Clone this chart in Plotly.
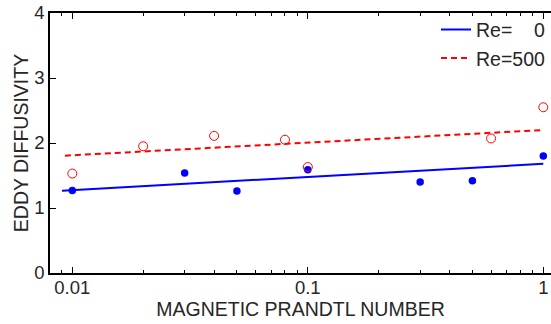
import plotly.graph_objects as go

# Data
re0_x = [0.01, 0.03, 0.05, 0.1, 0.3, 0.5, 1.0]
re0_y = [1.27, 1.54, 1.26, 1.59, 1.40, 1.42, 1.80]
re500_x = [0.01, 0.02, 0.04, 0.08, 0.1, 0.6, 1.0]
re500_y = [1.53, 1.95, 2.11, 2.05, 1.63, 2.07, 2.55]
fit0_x = [0.00904, 1.0]
fit0_y = [1.266, 1.68]
fit500_x = [0.0093, 1.0]
fit500_y = [1.805, 2.20]
x_tickvals = [0.01, 0.1, 1]
x_ticktext = ["0.01", "0.1", "1"]
x_minor = [0.009, 0.02, 0.03, 0.04, 0.05, 0.06, 0.07, 0.08, 0.09,
           0.2, 0.3, 0.4, 0.5, 0.6, 0.7, 0.8, 0.9]
y_tickvals = [0, 1, 2, 3, 4]

BLUE = "#0000ff"
RED = "#ff0000"
TXT = "#262626"
FONT = "Liberation Sans, Arial, sans-serif"

fig = go.Figure()
fig.add_trace(go.Scatter(x=fit0_x, y=fit0_y, mode="lines", name="Re=\u00a0\u00a0\u00a0\u00a00",
                         line=dict(color=BLUE, width=2)))
fig.add_trace(go.Scatter(x=fit500_x, y=fit500_y, mode="lines", name="Re=500",
                         line=dict(color=RED, width=2, dash="6px,4px")))
fig.add_trace(go.Scatter(x=re0_x, y=re0_y, mode="markers", showlegend=False,
                         marker=dict(color=BLUE, size=7.5, line=dict(width=0))))
fig.add_trace(go.Scatter(x=re500_x, y=re500_y, mode="markers", showlegend=False,
                         marker=dict(symbol="circle-open", color=RED, size=9,
                                     line=dict(width=1, color=RED))))

fig.update_layout(
    width=551, height=324,
    margin=dict(l=50, r=0, t=13, b=51),
    paper_bgcolor="white", plot_bgcolor="white",
    font=dict(family=FONT, color=TXT, size=18.5),
    showlegend=True,
    legend=dict(x=1, y=1.01, xanchor="right", yanchor="top",
                bgcolor="rgba(0,0,0,0)", borderwidth=0,
                font=dict(size=19.5, color=TXT), tracegroupgap=0),
    xaxis=dict(type="log", range=[-2.0947, 0.0327], automargin=False,
               tickvals=x_tickvals, ticktext=x_ticktext,
               ticks="inside", ticklen=6, tickwidth=1, tickcolor="black",
               minor=dict(tickvals=x_minor, ticks="inside", ticklen=3,
                          tickwidth=1, tickcolor="black", showgrid=False),
               showline=True, linecolor="black", linewidth=1.6, mirror="ticks",
               showgrid=False, zeroline=False, ticklabelstandoff=-3,
               tickfont=dict(size=18.5, color=TXT),
               title=dict(text="MAGNETIC PRANDTL NUMBER", standoff=2,
                          font=dict(size=19.5, color=TXT))),
    yaxis=dict(range=[0, 4], tickvals=y_tickvals, automargin=False,
               ticks="inside", ticklen=6, tickwidth=1, tickcolor="black",
               showline=True, linecolor="black", linewidth=1.6, mirror=False,
               showgrid=False, zeroline=False,
               tickfont=dict(size=18.5, color=TXT),
               title=dict(text="EDDY DIFFUSIVITY", standoff=0,
                          font=dict(size=19.5, color=TXT))),
    yaxis2=dict(overlaying="y", side="right", matches="y", range=[0, 4],
                automargin=False,
                tickvals=y_tickvals, ticks="inside", ticklen=6, tickwidth=1,
                tickcolor="black", showticklabels=False, showline=False,
                showgrid=False, zeroline=False),
)

fig.write_html("out.html", config={"displayModeBar": False},
               post_script="document.body.style.margin='0';document.body.style.padding='0';")
